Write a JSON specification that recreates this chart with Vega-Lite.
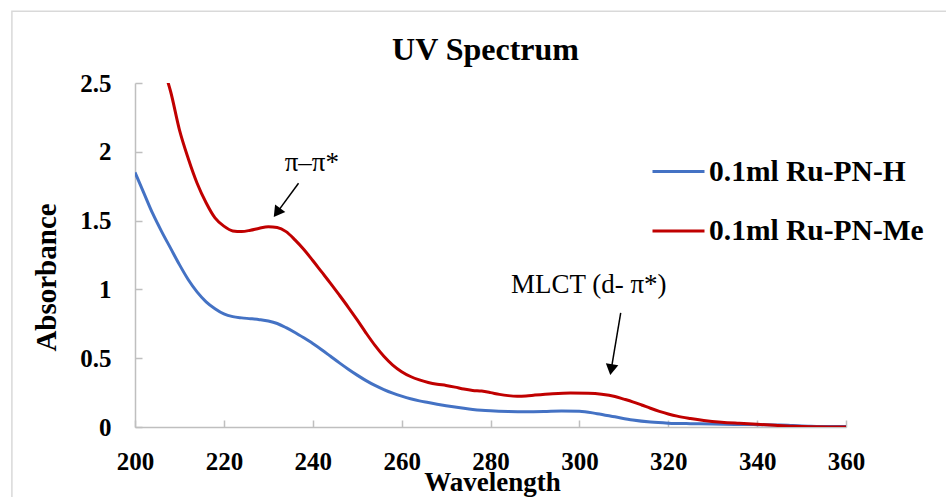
{
  "$schema": "https://vega.github.io/schema/vega-lite/v6.json",
  "autosize": {"type": "none"},
  "padding": {"left": 135, "top": 83, "right": 100, "bottom": 70},
  "width": 711,
  "height": 344,
  "background": "white",
  "config": {
    "font": "Liberation Serif",
    "view": {"stroke": null},
    "axis": {"grid": false, "domainColor": "#bfbfbf", "domainWidth": 1.5, "tickColor": "#bfbfbf", "tickWidth": 1.5}
  },
  "title": {"text": "UV Spectrum", "font": "Liberation Serif", "fontSize": 32, "fontWeight": "bold", "color": "black", "offset": -56, "dx": -5, "anchor": "middle"},
  "datasets": {
    "spectra": [
      {"series": "0.1ml Ru-PN-H", "wl": 200, "abs": 1.85},
      {"series": "0.1ml Ru-PN-H", "wl": 202, "abs": 1.70},
      {"series": "0.1ml Ru-PN-H", "wl": 204, "abs": 1.55},
      {"series": "0.1ml Ru-PN-H", "wl": 206, "abs": 1.42},
      {"series": "0.1ml Ru-PN-H", "wl": 208, "abs": 1.30},
      {"series": "0.1ml Ru-PN-H", "wl": 210, "abs": 1.18},
      {"series": "0.1ml Ru-PN-H", "wl": 212, "abs": 1.07},
      {"series": "0.1ml Ru-PN-H", "wl": 214, "abs": 0.98},
      {"series": "0.1ml Ru-PN-H", "wl": 216, "abs": 0.91},
      {"series": "0.1ml Ru-PN-H", "wl": 218, "abs": 0.86},
      {"series": "0.1ml Ru-PN-H", "wl": 220, "abs": 0.822},
      {"series": "0.1ml Ru-PN-H", "wl": 222, "abs": 0.802},
      {"series": "0.1ml Ru-PN-H", "wl": 224, "abs": 0.793},
      {"series": "0.1ml Ru-PN-H", "wl": 226, "abs": 0.787},
      {"series": "0.1ml Ru-PN-H", "wl": 228, "abs": 0.78},
      {"series": "0.1ml Ru-PN-H", "wl": 230, "abs": 0.77},
      {"series": "0.1ml Ru-PN-H", "wl": 232, "abs": 0.752},
      {"series": "0.1ml Ru-PN-H", "wl": 234, "abs": 0.722},
      {"series": "0.1ml Ru-PN-H", "wl": 236, "abs": 0.687},
      {"series": "0.1ml Ru-PN-H", "wl": 238, "abs": 0.648},
      {"series": "0.1ml Ru-PN-H", "wl": 240, "abs": 0.607},
      {"series": "0.1ml Ru-PN-H", "wl": 242, "abs": 0.562},
      {"series": "0.1ml Ru-PN-H", "wl": 244, "abs": 0.514},
      {"series": "0.1ml Ru-PN-H", "wl": 246, "abs": 0.466},
      {"series": "0.1ml Ru-PN-H", "wl": 248, "abs": 0.42},
      {"series": "0.1ml Ru-PN-H", "wl": 250, "abs": 0.377},
      {"series": "0.1ml Ru-PN-H", "wl": 252, "abs": 0.337},
      {"series": "0.1ml Ru-PN-H", "wl": 254, "abs": 0.302},
      {"series": "0.1ml Ru-PN-H", "wl": 256, "abs": 0.272},
      {"series": "0.1ml Ru-PN-H", "wl": 258, "abs": 0.246},
      {"series": "0.1ml Ru-PN-H", "wl": 260, "abs": 0.224},
      {"series": "0.1ml Ru-PN-H", "wl": 262, "abs": 0.205},
      {"series": "0.1ml Ru-PN-H", "wl": 264, "abs": 0.19},
      {"series": "0.1ml Ru-PN-H", "wl": 266, "abs": 0.178},
      {"series": "0.1ml Ru-PN-H", "wl": 268, "abs": 0.166},
      {"series": "0.1ml Ru-PN-H", "wl": 270, "abs": 0.155},
      {"series": "0.1ml Ru-PN-H", "wl": 272, "abs": 0.145},
      {"series": "0.1ml Ru-PN-H", "wl": 274, "abs": 0.136},
      {"series": "0.1ml Ru-PN-H", "wl": 276, "abs": 0.128},
      {"series": "0.1ml Ru-PN-H", "wl": 278, "abs": 0.122},
      {"series": "0.1ml Ru-PN-H", "wl": 280, "abs": 0.118},
      {"series": "0.1ml Ru-PN-H", "wl": 284, "abs": 0.113},
      {"series": "0.1ml Ru-PN-H", "wl": 288, "abs": 0.111},
      {"series": "0.1ml Ru-PN-H", "wl": 292, "abs": 0.113},
      {"series": "0.1ml Ru-PN-H", "wl": 296, "abs": 0.117},
      {"series": "0.1ml Ru-PN-H", "wl": 300, "abs": 0.115},
      {"series": "0.1ml Ru-PN-H", "wl": 304, "abs": 0.097},
      {"series": "0.1ml Ru-PN-H", "wl": 308, "abs": 0.074},
      {"series": "0.1ml Ru-PN-H", "wl": 312, "abs": 0.051},
      {"series": "0.1ml Ru-PN-H", "wl": 316, "abs": 0.036},
      {"series": "0.1ml Ru-PN-H", "wl": 320, "abs": 0.028},
      {"series": "0.1ml Ru-PN-H", "wl": 325, "abs": 0.024},
      {"series": "0.1ml Ru-PN-H", "wl": 330, "abs": 0.022},
      {"series": "0.1ml Ru-PN-H", "wl": 335, "abs": 0.019},
      {"series": "0.1ml Ru-PN-H", "wl": 340, "abs": 0.017},
      {"series": "0.1ml Ru-PN-H", "wl": 345, "abs": 0.015},
      {"series": "0.1ml Ru-PN-H", "wl": 348, "abs": 0.011},
      {"series": "0.1ml Ru-PN-H", "wl": 352, "abs": 0.006},
      {"series": "0.1ml Ru-PN-H", "wl": 356, "abs": 0.004},
      {"series": "0.1ml Ru-PN-H", "wl": 360, "abs": 0.003},
      {"series": "0.1ml Ru-PN-Me", "wl": 205, "abs": 2.75},
      {"series": "0.1ml Ru-PN-Me", "wl": 207, "abs": 2.55},
      {"series": "0.1ml Ru-PN-Me", "wl": 208, "abs": 2.44},
      {"series": "0.1ml Ru-PN-Me", "wl": 210, "abs": 2.16},
      {"series": "0.1ml Ru-PN-Me", "wl": 212, "abs": 1.95},
      {"series": "0.1ml Ru-PN-Me", "wl": 214, "abs": 1.77},
      {"series": "0.1ml Ru-PN-Me", "wl": 216, "abs": 1.63},
      {"series": "0.1ml Ru-PN-Me", "wl": 218, "abs": 1.52},
      {"series": "0.1ml Ru-PN-Me", "wl": 220, "abs": 1.46},
      {"series": "0.1ml Ru-PN-Me", "wl": 222, "abs": 1.425},
      {"series": "0.1ml Ru-PN-Me", "wl": 224, "abs": 1.42},
      {"series": "0.1ml Ru-PN-Me", "wl": 226, "abs": 1.43},
      {"series": "0.1ml Ru-PN-Me", "wl": 228, "abs": 1.445},
      {"series": "0.1ml Ru-PN-Me", "wl": 230, "abs": 1.455},
      {"series": "0.1ml Ru-PN-Me", "wl": 232, "abs": 1.45},
      {"series": "0.1ml Ru-PN-Me", "wl": 234, "abs": 1.42},
      {"series": "0.1ml Ru-PN-Me", "wl": 236, "abs": 1.36},
      {"series": "0.1ml Ru-PN-Me", "wl": 238, "abs": 1.29},
      {"series": "0.1ml Ru-PN-Me", "wl": 240, "abs": 1.21},
      {"series": "0.1ml Ru-PN-Me", "wl": 242, "abs": 1.127},
      {"series": "0.1ml Ru-PN-Me", "wl": 244, "abs": 1.044},
      {"series": "0.1ml Ru-PN-Me", "wl": 246, "abs": 0.958},
      {"series": "0.1ml Ru-PN-Me", "wl": 248, "abs": 0.87},
      {"series": "0.1ml Ru-PN-Me", "wl": 250, "abs": 0.778},
      {"series": "0.1ml Ru-PN-Me", "wl": 252, "abs": 0.683},
      {"series": "0.1ml Ru-PN-Me", "wl": 254, "abs": 0.593},
      {"series": "0.1ml Ru-PN-Me", "wl": 256, "abs": 0.514},
      {"series": "0.1ml Ru-PN-Me", "wl": 258, "abs": 0.45},
      {"series": "0.1ml Ru-PN-Me", "wl": 260, "abs": 0.402},
      {"series": "0.1ml Ru-PN-Me", "wl": 262, "abs": 0.367},
      {"series": "0.1ml Ru-PN-Me", "wl": 264, "abs": 0.342},
      {"series": "0.1ml Ru-PN-Me", "wl": 266, "abs": 0.324},
      {"series": "0.1ml Ru-PN-Me", "wl": 268, "abs": 0.311},
      {"series": "0.1ml Ru-PN-Me", "wl": 270, "abs": 0.302},
      {"series": "0.1ml Ru-PN-Me", "wl": 272, "abs": 0.29},
      {"series": "0.1ml Ru-PN-Me", "wl": 274, "abs": 0.276},
      {"series": "0.1ml Ru-PN-Me", "wl": 276, "abs": 0.266},
      {"series": "0.1ml Ru-PN-Me", "wl": 278, "abs": 0.261},
      {"series": "0.1ml Ru-PN-Me", "wl": 280, "abs": 0.25},
      {"series": "0.1ml Ru-PN-Me", "wl": 282, "abs": 0.237},
      {"series": "0.1ml Ru-PN-Me", "wl": 284, "abs": 0.228},
      {"series": "0.1ml Ru-PN-Me", "wl": 286, "abs": 0.224},
      {"series": "0.1ml Ru-PN-Me", "wl": 288, "abs": 0.226},
      {"series": "0.1ml Ru-PN-Me", "wl": 290, "abs": 0.232},
      {"series": "0.1ml Ru-PN-Me", "wl": 294, "abs": 0.242},
      {"series": "0.1ml Ru-PN-Me", "wl": 298, "abs": 0.247},
      {"series": "0.1ml Ru-PN-Me", "wl": 302, "abs": 0.245},
      {"series": "0.1ml Ru-PN-Me", "wl": 305, "abs": 0.238},
      {"series": "0.1ml Ru-PN-Me", "wl": 308, "abs": 0.222},
      {"series": "0.1ml Ru-PN-Me", "wl": 310, "abs": 0.203},
      {"series": "0.1ml Ru-PN-Me", "wl": 312, "abs": 0.183},
      {"series": "0.1ml Ru-PN-Me", "wl": 314, "abs": 0.16},
      {"series": "0.1ml Ru-PN-Me", "wl": 316, "abs": 0.136},
      {"series": "0.1ml Ru-PN-Me", "wl": 318, "abs": 0.114},
      {"series": "0.1ml Ru-PN-Me", "wl": 320, "abs": 0.095},
      {"series": "0.1ml Ru-PN-Me", "wl": 322, "abs": 0.079},
      {"series": "0.1ml Ru-PN-Me", "wl": 325, "abs": 0.062},
      {"series": "0.1ml Ru-PN-Me", "wl": 328, "abs": 0.048},
      {"series": "0.1ml Ru-PN-Me", "wl": 332, "abs": 0.035},
      {"series": "0.1ml Ru-PN-Me", "wl": 336, "abs": 0.027},
      {"series": "0.1ml Ru-PN-Me", "wl": 340, "abs": 0.02},
      {"series": "0.1ml Ru-PN-Me", "wl": 344, "abs": 0.012},
      {"series": "0.1ml Ru-PN-Me", "wl": 348, "abs": 0.005},
      {"series": "0.1ml Ru-PN-Me", "wl": 352, "abs": 0.001},
      {"series": "0.1ml Ru-PN-Me", "wl": 356, "abs": 0},
      {"series": "0.1ml Ru-PN-Me", "wl": 360, "abs": 0}
    ],
    "arrows": [
      {"label": "pi", "x": 236.8, "y": 1.771, "x2": 231.95, "y2": 1.558, "angle": 36},
      {"label": "mlct", "x": 309.3, "y": 0.829, "x2": 307.16, "y2": 0.417, "angle": 9.5}
    ],
    "notes": [
      {"text": "π–π*", "x": 239.8, "y": 1.918},
      {"text": "MLCT (d- π*)", "x": 302.1, "y": 1.033}
    ]
  },
  "layer": [
    {
      "data": {"values": [{}]},
      "mark": {"type": "rect", "fill": null, "stroke": "#d9d9d9", "strokeWidth": 1.5, "clip": false},
      "encoding": {
        "x": {"datum": 172.3, "type": "quantitative", "scale": {"domain": [200, 360]}},
        "x2": {"datum": 420},
        "y": {"datum": 3.021, "type": "quantitative"},
        "y2": {"datum": -1}
      }
    },
    {
      "data": {"name": "spectra"},
      "mark": {"type": "line", "strokeWidth": 3, "interpolate": "monotone", "clip": true},
      "encoding": {
        "x": {
          "field": "wl", "type": "quantitative",
          "scale": {"domain": [200, 360], "nice": false, "zero": false},
          "axis": {
            "title": "Wavelength", "values": [200, 220, 240, 260, 280, 300, 320, 340, 360],
            "tickSize": -7, "labelPadding": 29, "labelFont": "Liberation Serif", "labelFontSize": 25, "labelFontWeight": "bold", "labelColor": "black",
            "titleFont": "Liberation Serif", "titleFontSize": 27, "titleFontWeight": "bold", "titleColor": "black",
            "titleX": 357, "titleY": 63, "titleBaseline": "alphabetic", "titleAlign": "center", "labelFlush": false
          }
        },
        "y": {
          "field": "abs", "type": "quantitative",
          "scale": {"domain": [0, 2.5], "nice": false},
          "axis": {
            "title": "Absorbance", "values": [0, 0.5, 1, 1.5, 2, 2.5], "format": "~g",
            "tickSize": -7, "labelPadding": 31, "labelFont": "Liberation Serif", "labelFontSize": 25, "labelFontWeight": "bold", "labelColor": "black",
            "titleFont": "Liberation Serif", "titleFontSize": 29, "titleFontWeight": "bold", "titleColor": "black",
            "titleX": -89, "titleY": 194, "titleBaseline": "middle", "titleAlign": "center", "titleAngle": 270
          }
        },
        "color": {
          "field": "series", "type": "nominal",
          "scale": {"domain": ["0.1ml Ru-PN-H", "0.1ml Ru-PN-Me"], "range": ["#4472C4", "#C00000"]},
          "legend": {
            "title": null, "orient": "none", "legendX": 516, "legendY": 61, "padding": 0,
            "symbolType": "stroke", "symbolSize": 2704, "symbolStrokeWidth": 3, "rowPadding": 17.5, "labelOffset": 3,
            "labelFont": "Liberation Serif", "labelFontSize": 29.5, "labelFontWeight": "bold", "labelColor": "black", "labelLimit": 400
          }
        }
      }
    },
    {
      "data": {"name": "arrows"},
      "mark": {"type": "rule", "color": "black", "strokeWidth": 1.5},
      "encoding": {
        "x": {"field": "x", "type": "quantitative"},
        "y": {"field": "y", "type": "quantitative"},
        "x2": {"field": "x2"},
        "y2": {"field": "y2"}
      }
    },
    {
      "data": {"name": "arrows"},
      "mark": {"type": "point", "shape": "triangle-down", "filled": true, "color": "black", "size": 160, "opacity": 1},
      "encoding": {
        "x": {"field": "x2", "type": "quantitative"},
        "y": {"field": "y2", "type": "quantitative"},
        "angle": {"field": "angle", "type": "quantitative", "scale": null}
      }
    },
    {
      "data": {"name": "notes"},
      "mark": {"type": "text", "font": "Liberation Serif", "fontSize": 27, "color": "black", "align": "center", "baseline": "middle"},
      "encoding": {
        "x": {"field": "x", "type": "quantitative"},
        "y": {"field": "y", "type": "quantitative"},
        "text": {"field": "text"}
      }
    }
  ]
}
